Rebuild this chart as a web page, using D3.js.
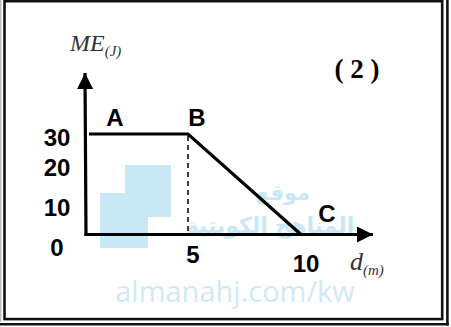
<!DOCTYPE html>
<html>
<head>
<meta charset="utf-8">
<script src="https://cdn.jsdelivr.net/npm/d3@7"></script>
<style>
  body { margin: 0; background: #fff; }
  svg { display: block; }
</style>
</head>
<body>
<div id="chart"></div>
<script>
// Data: mechanical energy (J) against distance (m)
const pointNames = ["A", "B", "C"];
const distances = [0, 5, 10];
const energies = [30, 30, 0];
const yTicks = [0, 10, 20, 30];
const xTicks = [5, 10];

const width = 451, height = 327;

const svg = d3.select("#chart")
              .append("svg")
              .attr("width", width)
              .attr("height", height);

// Frame (double border as in the worksheet)
svg.append("line").attr("x1", 0.7).attr("y1", 0).attr("x2", 0.7).attr("y2", 322)
   .attr("stroke", "#bbb").attr("stroke-width", 1.4);
svg.append("rect").attr("x", 4.5).attr("y", 1.2).attr("width", 437.7).attr("height", 317.9)
   .attr("fill", "none").attr("stroke", "#111").attr("stroke-width", 2.6);
svg.append("line").attr("x1", 447.4).attr("y1", 0).attr("x2", 447.4).attr("y2", 325.5)
   .attr("stroke", "#111").attr("stroke-width", 2.6);
svg.append("line").attr("x1", 0).attr("y1", 324.2).attr("x2", 448.7).attr("y2", 324.2)
   .attr("stroke", "#111").attr("stroke-width", 2.6);

// Faint watermark
const wm = svg.append("g").attr("fill", "#c8e8f5");
wm.append("rect").attr("x", 100).attr("y", 193).attr("width", 48).attr("height", 55);
wm.append("rect").attr("x", 125).attr("y", 165).attr("width", 46).attr("height", 52);
wm.append("text").attr("x", 283).attr("y", 200).attr("text-anchor", "middle")
  .style("font", "bold 21px 'DejaVu Sans'").text("موقع");
wm.append("text").attr("x", 270).attr("y", 233).attr("text-anchor", "middle")
  .style("font", "bold 22px 'DejaVu Sans'").text("المناهج الكويتية");
wm.append("text").attr("x", 235).attr("y", 302).attr("text-anchor", "middle")
  .attr("fill", "#cfeaf6")
  .style("font", "29px 'Open Sans'").text("almanahj.com/kw");

// Scales
const x = d3.scaleLinear().domain([0, 5, 10]).range([86, 188, 301]);
const y = d3.scaleLinear().domain([0, 30]).range([234.5, 134]);

// Arrow markers
const defs = svg.append("defs");
defs.append("marker")
    .attr("id", "arrow")
    .attr("viewBox", "0 0 10 10")
    .attr("refX", 10).attr("refY", 5)
    .attr("markerWidth", 16).attr("markerHeight", 16)
    .attr("markerUnits", "userSpaceOnUse")
    .attr("orient", "auto")
    .append("path").attr("d", "M0,0 L10,5 L0,10 Z").attr("fill", "#000");

// Axes drawn as arrows from the origin
svg.append("line")
   .attr("x1", x(0)).attr("y1", y(0) + 1.5)
   .attr("x2", x(0) - 1).attr("y2", 73)
   .attr("stroke", "#000").attr("stroke-width", 3.2)
   .attr("marker-end", "url(#arrow)");
svg.append("line")
   .attr("x1", x(0) - 1.5).attr("y1", y(0))
   .attr("x2", 373).attr("y2", y(0))
   .attr("stroke", "#000").attr("stroke-width", 3.2)
   .attr("marker-end", "url(#arrow)");

// Dashed drop line from B
svg.append("line")
   .attr("x1", x(distances[1])).attr("y1", y(energies[1]) + 2)
   .attr("x2", x(distances[1])).attr("y2", y(0) - 2)
   .attr("stroke", "#000").attr("stroke-width", 1.5)
   .attr("stroke-dasharray", "5,4");

// The energy line
const pts = distances.map((d, i) => ({ name: pointNames[i], d: d, e: energies[i] }));
svg.append("path")
   .datum(pts)
   .attr("fill", "none")
   .attr("stroke", "#000")
   .attr("stroke-width", 3.2)
   .attr("d", d3.line().x(d => d.d === 0 ? x(d.d) + 3 : x(d.d)).y(d => y(d.e)));

// Point letters
const letterPos = { A: [29, -8], B: [9, -8], C: [26, -13] };
svg.selectAll(".pt")
   .data(pts)
   .enter()
   .append("text")
   .attr("class", "pt")
   .attr("x", d => x(d.d) + letterPos[d.name][0])
   .attr("y", d => y(d.e) + letterPos[d.name][1])
   .attr("text-anchor", "middle")
   .style("font", "bold 24px 'Liberation Sans'")
   .text(d => d.name);

// Y tick labels
const yOff = { 0: 21.5, 10: 15, 20: 8.5, 30: 12 };
svg.selectAll(".ytick")
   .data(yTicks)
   .enter()
   .append("text")
   .attr("class", "ytick")
   .attr("x", 57)
   .attr("y", d => y(d) + yOff[d])
   .attr("text-anchor", "middle")
   .style("font", "bold 24px 'Liberation Sans'")
   .text(d => d);

// X tick labels
svg.selectAll(".xtick")
   .data(xTicks)
   .enter()
   .append("text")
   .attr("class", "xtick")
   .attr("x", d => x(d) + 5)
   .attr("y", d => d === 5 ? y(0) + 28.5 : y(0) + 37.5)
   .attr("text-anchor", "middle")
   .style("font", "bold 24px 'Liberation Sans'")
   .text(d => d);

// Axis titles
const yt = svg.append("text").attr("x", 70).attr("y", 51)
              .attr("fill", "#333")
              .style("font", "italic 24px 'Liberation Serif'");
yt.append("tspan").text("ME");
yt.append("tspan").attr("dy", 5).style("font-size", "15px").text("(J)");

const xt = svg.append("text").attr("x", 350).attr("y", 270)
              .attr("fill", "#333")
              .style("font", "italic 26px 'Liberation Serif'");
xt.append("tspan").text("d");
xt.append("tspan").attr("dy", 5).style("font-size", "15px").text("(m)");

// Figure number
svg.append("text")
   .attr("x", 357).attr("y", 78)
   .attr("text-anchor", "middle")
   .style("font", "bold 27px 'Liberation Serif'")
   .text("( 2 )");
</script>
</body>
</html>
